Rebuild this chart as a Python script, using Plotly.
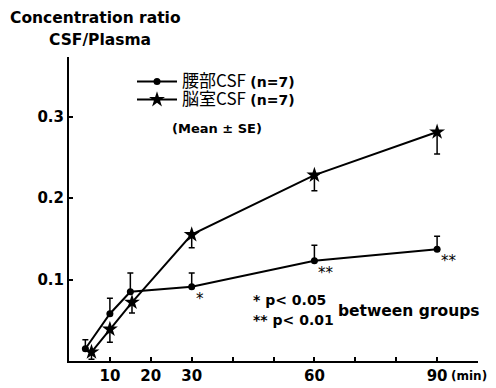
import plotly.graph_objects as go

# Data
lumbar_t = [4, 10, 15, 30, 60, 90]
lumbar_mean = [0.015, 0.058, 0.085, 0.091, 0.123, 0.137]
lumbar_se = [0.011, 0.019, 0.023, 0.017, 0.019, 0.016]

vent_t = [5.5, 10, 15.4, 30, 60, 90]
vent_mean = [0.011, 0.039, 0.072, 0.155, 0.228, 0.281]
vent_se = [0.009, 0.016, 0.013, 0.016, 0.019, 0.027]

sig_t = [30, 60, 90]
sig_y = [0.091, 0.123, 0.137]
sig_text = ["*", "**", "**"]

x_tickvals = [10, 20, 30, 40, 50, 60, 70, 80, 90]
x_ticktext = ["10", "20", "30", "", "", "60", "", "", "90"]
y_tickvals = [0.1, 0.2, 0.3]
y_ticktext = ["0.1", "0.2", "0.3"]

SANS = "DejaVu Sans, Liberation Sans, sans-serif"
TICKFONT = dict(family=SANS, size=15, color="black", weight="bold")

# the page body has an 8px margin, so the figure is drawn 8px in from the window corner
OFF = 8
WIN_W, WIN_H = 496, 388
W, H = WIN_W - OFF, WIN_H - OFF
# plot area in window pixels
PL, PR, PT, PB = 69, 478, 57, 361
L, R, T, B = PL - OFF, WIN_W - PR, PT - OFF, WIN_H - PB
PW, PH = PR - PL, PB - PT


def px(x):
    return (x - PL) / PW


def py(y):
    return (PB - y) / PH


def legend_name(jp):
    return ("<span style='font-family:Noto Sans CJK JP;font-size:17px'>" + jp +
            "</span> <b>(n=7)</b>")


fig = go.Figure()

fig.add_trace(go.Scatter(
    x=lumbar_t, y=lumbar_mean, mode="lines+markers",
    name=legend_name("腰部CSF"), legend="legend",
    line=dict(color="black", width=2),
    marker=dict(symbol="circle", size=7, color="black"),
    error_y=dict(type="data", symmetric=False, array=lumbar_se,
                 arrayminus=[0] * len(lumbar_se), color="black",
                 thickness=1.5, width=3),
))
fig.add_trace(go.Scatter(
    x=vent_t, y=vent_mean, mode="lines+markers",
    name=legend_name("脳室CSF"), legend="legend2",
    line=dict(color="black", width=2),
    marker=dict(symbol="star", size=12, color="black"),
    error_y=dict(type="data", symmetric=False, array=[0] * len(vent_se),
                 arrayminus=vent_se, color="black",
                 thickness=1.5, width=3),
))

annotations = []
for t, y, s in zip(sig_t, sig_y, sig_text):
    annotations.append(dict(x=t, y=y, xref="x", yref="y", text=s, showarrow=False,
                            xanchor="left", yanchor="top", xshift=2, yshift=-1,
                            font=dict(family=SANS, size=15, color="black")))

layout_ann = [
    dict(x=8, y=18, text="Concentration ratio", xanchor="left", size=15.5),
    dict(x=100, y=40, text="CSF/Plasma", xanchor="center", size=15.5),
    dict(x=217, y=128, text="(Mean ± SE)", xanchor="center", size=13),
    dict(x=251, y=300, text="* p< 0.05", xanchor="left", size=14),
    dict(x=251, y=320, text="** p< 0.01", xanchor="left", size=14),
    dict(x=336, y=311, text="between groups", xanchor="left", size=15.5),
    dict(x=449, y=376, text="(min)", xanchor="left", size=12),
]
for a in layout_ann:
    annotations.append(dict(
        x=px(a["x"]), y=py(a["y"]), xref="paper", yref="paper",
        text=a["text"], xanchor=a["xanchor"], yanchor="middle", showarrow=False,
        font=dict(family=SANS, size=a["size"], color="black", weight="bold"),
    ))

leg_common = dict(xanchor="left", yanchor="middle", bgcolor="rgba(0,0,0,0)",
                  font=dict(family=SANS, size=14, color="black"), itemwidth=40)

fig.update_layout(
    width=W, height=H,
    margin=dict(l=L, r=R, t=T, b=B, autoexpand=False),
    paper_bgcolor="white", plot_bgcolor="white",
    showlegend=True,
    legend=dict(x=px(132), y=py(82), **leg_common),
    legend2=dict(x=px(132), y=py(100), **leg_common),
    xaxis=dict(range=[0, 100], tickvals=x_tickvals, ticktext=x_ticktext,
               ticks="inside", ticklen=4, tickcolor="black", tickwidth=1.5,
               showgrid=False, zeroline=False, showline=True, linecolor="black",
               linewidth=2, tickfont=TICKFONT, automargin=False),
    yaxis=dict(range=[0, 0.373], tickvals=y_tickvals, ticktext=y_ticktext,
               ticks="inside", ticklen=4, tickcolor="black", tickwidth=1.5,
               showgrid=False, zeroline=False, showline=True, linecolor="black",
               linewidth=2, tickfont=TICKFONT, automargin=False),
    annotations=annotations,
)

fig.write_html("out.html")
